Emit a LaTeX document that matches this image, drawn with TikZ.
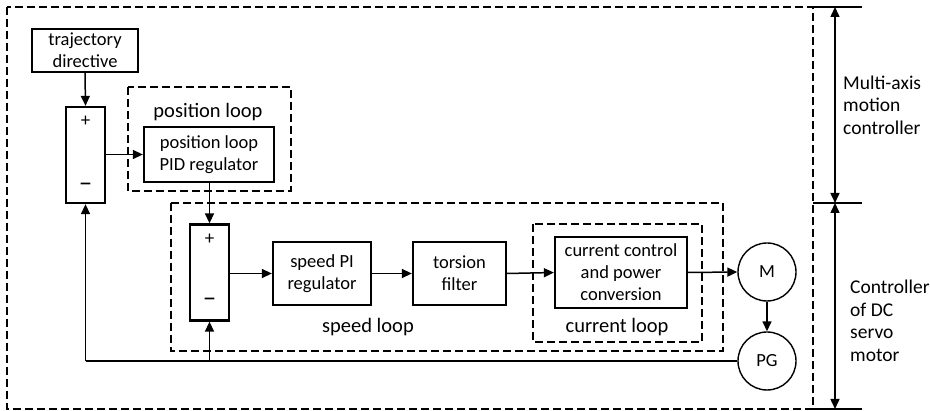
\documentclass[tikz,border=0pt]{standalone}
\usepackage{fontspec}
\setmainfont{Carlito}
\usetikzlibrary{arrows.meta,positioning,calc}
\begin{document}
\begin{tikzpicture}[x=1pt,y=-1pt,
  blk/.style={draw,line width=2.3pt,align=center,inner sep=0pt,
    font=\fontsize{18.5}{22}\selectfont},
  sumbox/.style={draw,line width=2.3pt,minimum width=39pt,minimum height=96pt,inner sep=0pt},
  motor/.style={draw,line width=1.4pt,circle,minimum size=58pt,inner sep=0pt,
    font=\fontsize{18.5}{22}\selectfont},
  loopbox/.style={draw,line width=1.3pt,dash pattern=on 8pt off 4pt},
  looplabel/.style={font=\fontsize{20.5}{24}\selectfont,inner sep=0pt},
  sidelabel/.style={font=\fontsize{19.5}{22.5}\selectfont,align=left,anchor=west,inner sep=0pt},
  sig/.style={line width=1.5pt,-{Triangle[length=10pt,width=9pt]}},
  wire/.style={line width=1.5pt},
  tick/.style={line width=2pt},
  span/.style={line width=1.5pt,{Triangle[length=10pt,width=9pt]}-{Triangle[length=10pt,width=9pt]}},
  plus/.style={font=\fontsize{19}{19}\selectfont,inner sep=0pt},
  minus/.style={font=\fontsize{27}{27}\selectfont,inner sep=0pt}
]
\useasboundingbox (0,0) rectangle (930,411);

% dashed frames of the controller and the nested loops
\draw[loopbox] (7,7) rectangle (813,409);
\draw[loopbox] (128,87) rectangle (291,191);
\draw[loopbox] (171,203) rectangle (723,351);
\draw[loopbox] (533,224) rectangle (702,342);

% blocks
\node[blk,minimum width=106pt,minimum height=43pt] (traj) at (85,50.5) {trajectory\\directive};
\node[sumbox] (sum1) at (85.5,155) {};
\node[blk,minimum width=130pt,minimum height=55pt] (pid) at (209,154.5) {position loop\\PID regulator};
\node[sumbox] (sum2) at (209.5,272.5) {};
\node[blk,minimum width=98pt,minimum height=63pt] (spi) at (322,273.5) {speed PI\\regulator};
\node[blk,minimum width=93pt,minimum height=63pt] (tor) at (459.5,273.5) {torsion\\filter};
\node[blk,minimum width=132pt,minimum height=71pt] (cur) at (621,272.5) {current control\\and power\\conversion};
\node[motor] (m) at (767,272) {M};
\node[motor] (pg) at (767,361) {PG};

% summing signs
\node[plus] (p1) at ($(sum1.north)+(0,15)$) {+};
\node[minus] (n1) at ($(sum1.south)+(0,-17)$) {--};
\node[plus] (p2) at ($(sum2.north)+(0,16)$) {+};
\node[minus] (n2) at ($(sum2.south)+(0,-19)$) {--};

% loop names
\node[looplabel] (lpos) at (208,112) {position loop};
\node[looplabel] (lspd) at (368,327) {speed loop};
\node[looplabel] (lcur) at (617,327) {current loop};

% forward path
\draw[sig] (traj.south) -- (sum1.north);
\draw[sig] (sum1.east |- pid.west) -- (pid.west);
\draw[sig] (pid.south -| sum2.north) -- (sum2.north);
\draw[sig] (sum2.east |- spi.west) -- (spi.west);
\draw[sig] (spi.east) -- (tor.west);
\draw[sig] (tor.east) -- (cur.west);
\draw[sig] (cur.east) -- (m.west);
\draw[sig] (m.south) -- (pg.north);

% feedback path from the pulse generator
\coordinate (fbL) at (sum1.south |- pg.west);
\coordinate (fbS) at (sum2.south |- pg.west);
\draw[wire] (pg.west) -- (fbL);
\draw[sig] (fbL) -- (sum1.south);
\draw[sig] (fbS) -- (sum2.south);

% extent markers on the right
\coordinate (t1a) at (813,7);   \coordinate (t1b) at (862,7);
\coordinate (t2a) at (813,203); \coordinate (t2b) at (862,203);
\coordinate (t3a) at (813,409); \coordinate (t3b) at (862,409);
\draw[tick] (t1a) -- (t1b);
\draw[tick] (t2a) -- (t2b);
\draw[tick] (t3a) -- (t3b);
\draw[span] (835,7) -- (835,203);
\draw[span] (835,203) -- (835,409);

\node[sidelabel] (mac) at (843,105) {Multi-axis\\motion\\controller};
\node[sidelabel] (dcs) at (850,321) {Controller\\of DC\\servo\\motor};
\end{tikzpicture}
\end{document}
